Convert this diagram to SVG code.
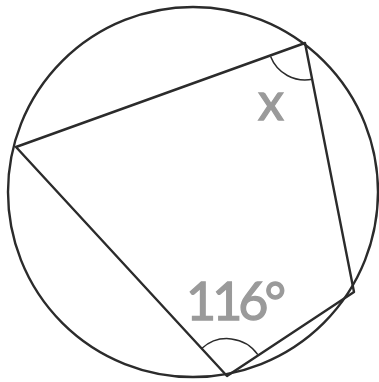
<svg xmlns="http://www.w3.org/2000/svg" width="379" height="382" viewBox="0 0 379 382">
<style>
.ln{fill:none;stroke:#2b2b2b;stroke-width:2.4;stroke-linejoin:round}
.arc{fill:none;stroke:#2b2b2b;stroke-width:1.5}
.lbl{font-family:Lato,"Open Sans",sans-serif;fill:#9a9a9a;stroke:#9a9a9a;stroke-width:1.3}
</style>
<rect width="379" height="382" fill="#fff"/>
<g id="circle"><circle class="ln" cx="193" cy="192" r="185"/></g>
<g id="connectors">
<polygon class="ln" points="16,147 305,43 354,292 227,376"/>
<path class="arc" d="M270.6,56.5 A37,37 0 0 0 312.4,79.3"/>
<path class="arc" d="M202,348.3 A37.5,37.5 0 0 1 257.8,354.6"/>
</g>
<g id="label-x"><text class="lbl" x="258" y="120" font-size="52">x</text></g>
<g id="label-116"><text class="lbl" x="186" y="320" font-size="52" letter-spacing="-4">116°</text></g>
</svg>
